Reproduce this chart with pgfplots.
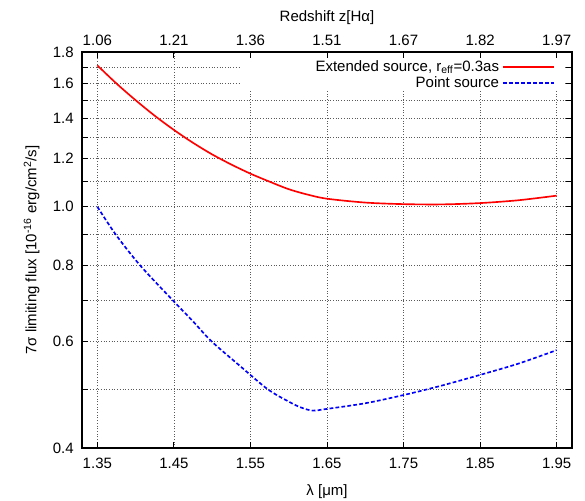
\documentclass[border=0pt]{standalone}
\usepackage{fontspec}
\setmainfont{Liberation Sans}
\usepackage{pgfplots}
\pgfplotsset{compat=1.18}
\begin{document}
\begin{tikzpicture}
\begin{axis}[
  scale only axis, width=326.7pt, height=264pt,
  xmin=1.33, xmax=1.97, ymin=0.4, ymax=1.8, ymode=log,
  xtick={1.35,1.45,1.55,1.65,1.75,1.85,1.95},
  xticklabels={1.35,1.45,1.55,1.65,1.75,1.85,1.95},
  ytick={0.4,0.6,0.8,1.0,1.2,1.4,1.6,1.8},
  yticklabels={0.4,0.6,0.8,1.0,1.2,1.4,1.6,1.8},
  minor ytick={0.5,0.7,0.9,1.1,1.3,1.5,1.7},
  xticklabel pos=lower,
  xmajorgrids, ymajorgrids, yminorgrids,
  major grid style={black!65, line width=0.45pt, dash pattern=on 0.5pt off 1.3pt},
  minor grid style={black!65, line width=0.45pt, dash pattern=on 0.5pt off 1.3pt},
  tick align=inside,
  major tick length=4pt, minor tick length=4pt,
  tick style={black, line width=0.6pt},
  axis line style={line width=0.8pt},
  xticklabel style={yshift=-3pt},
  yticklabel style={xshift=-2pt},
  xlabel={λ [μm]},
  xlabel style={yshift=-4pt},
  ylabel={7σ limiting flux [10\textsuperscript{-16} erg/cm\textsuperscript{2}/s]},
  ylabel style={yshift=2pt},
  /pgf/number format/assume math mode=true,
  legend plot pos=right,
  legend cell align=right,
  legend style={at={(0.975,0.995)}, anchor=north east, draw=none, fill=none,
    row sep=-2pt},
  legend image code/.code={\path (0cm,0cm) -- (0.15cm,0cm);\draw[#1] (0.15cm,0cm) -- (1.2cm,0cm);},
]
\fill[white] (rel axis cs:0.3224,0.9015) rectangle (rel axis cs:0.9857,0.997);
\coordinate (ll) at (rel axis cs:0,0);
\coordinate (ur) at (rel axis cs:1,1);
\addplot[red, line width=1.1pt, smooth, tension=0.5] coordinates {
(1.35,1.711) (1.375,1.597) (1.40,1.499) (1.425,1.413) (1.45,1.339) (1.475,1.275)
(1.50,1.220) (1.525,1.174) (1.55,1.134) (1.575,1.100) (1.60,1.069) (1.625,1.047)
(1.65,1.031) (1.70,1.016) (1.75,1.010) (1.80,1.009) (1.85,1.014) (1.90,1.025) (1.95,1.043)};
\addlegendentry{Extended source, r\textsubscript{eff}=0.3as}
\addplot[blue, line width=1.1pt, dash pattern=on 2.5pt off 1.5pt, smooth, tension=0.5] coordinates {
(1.35,1.0) (1.374,0.90) (1.406,0.80) (1.449,0.70) (1.475,0.647) (1.499,0.60)
(1.535,0.548) (1.5725,0.50) (1.60,0.477) (1.615,0.467) (1.631,0.461) (1.65,0.464)
(1.70,0.474) (1.75,0.489) (1.80,0.507) (1.85,0.528) (1.90,0.551) (1.95,0.580)};
\addlegendentry{Point source}
\end{axis}
\begin{axis}[
  scale only axis, width=326.7pt, height=264pt,
  xmin=1.33, xmax=1.97, ymin=0.4, ymax=1.8, ymode=log,
  axis x line*=top, axis y line=none,
  xtick={1.35,1.45,1.55,1.65,1.75,1.85,1.95},
  xticklabels={1.06,1.21,1.36,1.51,1.67,1.82,1.97},
  tick align=inside, major tick length=4pt,
  tick style={black, line width=0.6pt},
  axis line style={line width=0.8pt},
  xticklabel style={yshift=1pt},
  xlabel={Redshift z[Hα]},
]
\end{axis}
\pgfresetboundingbox
\path ([shift={(-54.7pt,-35.3pt)}]ll) rectangle ([shift={(8.7pt,34.7pt)}]ur);
\end{tikzpicture}
\end{document}
